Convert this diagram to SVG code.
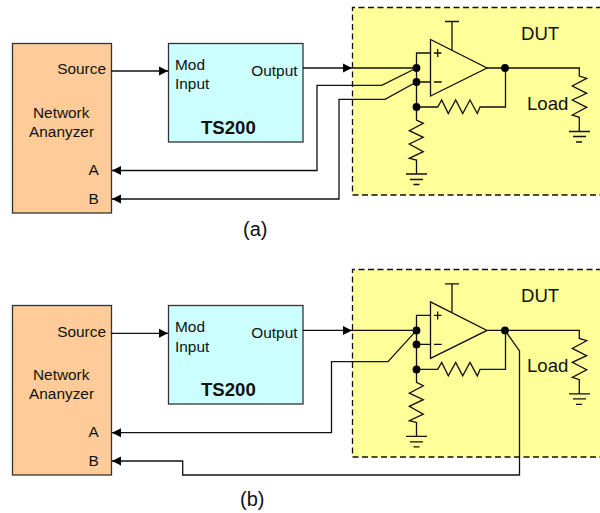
<svg xmlns="http://www.w3.org/2000/svg" width="600" height="513" viewBox="0 0 600 513">
<style>
text{font-family:"Liberation Sans",Arial,sans-serif;font-size:15.4px;fill:#111}
.big{font-size:18.6px}
.cap{font-size:20px}
.b{font-weight:bold}
.e{text-anchor:end}
.box{stroke:#333;stroke-width:1.3}
.na{fill:#FFCC99}
.ts{fill:#CCFFFF}
.dut{fill:#FFFF99}
.edge{fill:none;stroke:#111;stroke-width:1.3;stroke-dasharray:6 3.5}
.w{fill:none;stroke:#111;stroke-width:1.3}
.dot{fill:#000}
</style>
<defs>
<marker id="arr" markerUnits="userSpaceOnUse" markerWidth="10" markerHeight="10" refX="9" refY="5" orient="auto"><path d="M0,0.5 L9,5 L0,9.5 Z" fill="#000"/></marker>
<g id="circuit">
<path class="w" d="M430.5,39.5 V96 L487,68 Z"/>
<path class="w" d="M452,50 V21.5 M445,21.5 H459"/>
<path class="w" d="M430.5,53 H416.5 V107 M416.5,82 H430.5 M434,53 H441.5 M437.7,49 V57 M434,82 H441.7"/>
<path class="w" d="M416.5,107 H437.7 L441.7,100 L448.3,113.5 L455.7,100 L462.7,113.5 L470,100 L477.3,113.5 L480,107 H505.5 V68"/>
<path class="w" d="M487,68 H579.3 V76 L586.7,78.3 L572.3,86 L586.7,93.3 L572.3,100 L586.7,107.3 L572.3,115 L579.3,117.3 V131.5"/>
<path class="w" d="M569,131.5 H590 M573,136.5 H586 M576,142 H582"/>
<path class="w" d="M416.5,107 V120 L423.3,123.3 L409.3,130.7 L423.3,137.3 L409.3,144 L423.3,151.7 L409.3,158.3 L416.5,160 V174"/>
<path class="w" d="M406,174 H427 M410,179.5 H423 M413.5,184.5 H419.5"/>
<circle class="dot" cx="416.5" cy="68" r="3.9"/>
<circle class="dot" cx="416.5" cy="82" r="3.9"/>
<circle class="dot" cx="416.5" cy="107" r="3.9"/>
<circle class="dot" cx="505" cy="68" r="3.9"/>
</g>
</defs>

<g id="dut-a">
<rect class="dut" x="352.5" y="7.5" width="250" height="187.5"/>
<path class="edge" d="M602,7.5 H352.5 V195 H602"/>
<text class="big" x="521" y="40">DUT</text>
</g>
<g id="dut-b">
<rect class="dut" x="352.5" y="269.5" width="250" height="187.5"/>
<path class="edge" d="M602,269.5 H352.5 V457 H602"/>
<text class="big" x="521" y="302">DUT</text>
</g>

<g id="na-a">
<rect class="box na" x="12.5" y="43.5" width="99" height="169.5"/>
<text class="e" x="106" y="74.3">Source</text>
<text x="33" y="118">Network</text>
<text x="29" y="136.7">Ananyzer</text>
<text x="88.5" y="175">A</text>
<text x="88.5" y="204">B</text>
</g>
<g id="ts-a">
<rect class="box ts" x="168.5" y="43.5" width="134.5" height="98.5"/>
<text x="175" y="70">Mod</text>
<text x="175" y="89">Input</text>
<text class="e" x="297.5" y="76">Output</text>
<text class="big b" x="201" y="134">TS200</text>
</g>
<g id="na-b">
<rect class="box na" x="12.5" y="305.5" width="99" height="169.5"/>
<text class="e" x="106" y="336.7">Source</text>
<text x="33" y="380">Network</text>
<text x="29" y="399">Ananyzer</text>
<text x="88.5" y="437">A</text>
<text x="88.5" y="466">B</text>
</g>
<g id="ts-b">
<rect class="box ts" x="168.5" y="305.5" width="134.5" height="98.5"/>
<text x="175" y="332">Mod</text>
<text x="175" y="352">Input</text>
<text class="e" x="297.5" y="338">Output</text>
<text class="big b" x="201" y="396">TS200</text>
</g>

<g id="amp-a"><use href="#circuit"/><text class="big" x="527" y="110">Load</text></g>
<g id="amp-b"><use href="#circuit" y="262.4"/><text class="big" x="527" y="372">Load</text></g>

<g id="connectors">
<path class="w" marker-end="url(#arr)" d="M111,71 H168"/>
<path class="w" marker-end="url(#arr)" d="M303,68 H352"/>
<path class="w" d="M352,68 H416.5"/>
<path class="w" marker-end="url(#arr)" d="M416.5,68 L381.7,85.3 H317 V170.5 H112"/>
<path class="w" marker-end="url(#arr)" d="M416.5,82 L385,99.3 H339 V199 H112"/>
<path class="w" marker-end="url(#arr)" d="M111,333.3 H168"/>
<path class="w" marker-end="url(#arr)" d="M303,330.4 H352"/>
<path class="w" d="M352,330.4 H416.5"/>
<path class="w" marker-end="url(#arr)" d="M416.5,330.4 L388,361.7 H331.5 V432.7 H112"/>
<path class="w" marker-end="url(#arr)" d="M505,330.4 L519.5,351 V475 H182.7 V461 H112"/>
</g>

<text class="cap" x="243" y="236" id="cap-a">(a)</text>
<text class="cap" x="240" y="506" id="cap-b">(b)</text>
</svg>
